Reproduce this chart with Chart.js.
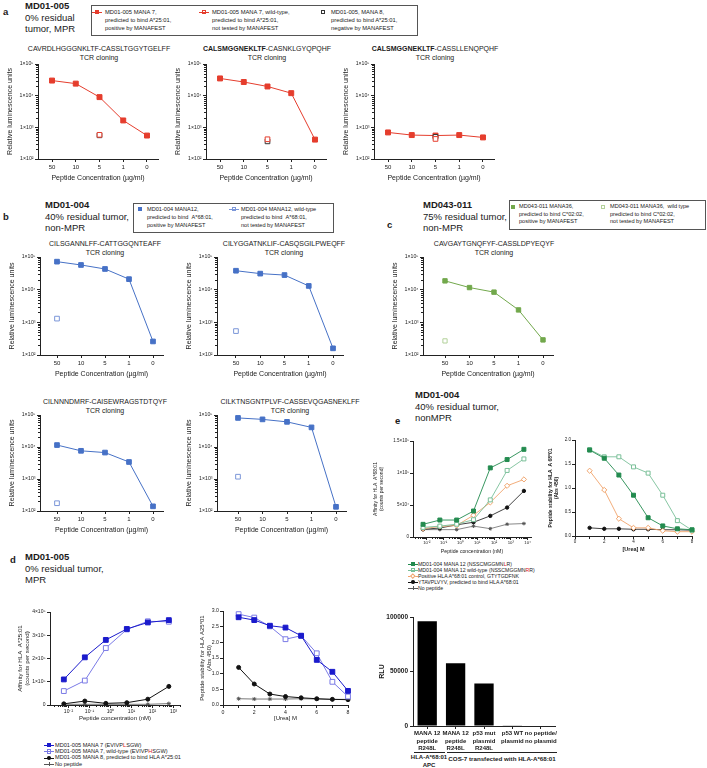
<!DOCTYPE html>
<html><head><meta charset="utf-8">
<script src="https://cdn.jsdelivr.net/npm/chart.js@4.4.1/dist/chart.umd.min.js"></script>
<style>
html,body{margin:0;padding:0;background:#fff}
body{width:707px;height:768px;position:relative;overflow:hidden;font-family:'Liberation Sans',Arial,sans-serif;color:#1a1a1a}
canvas{position:absolute}
.tx{position:absolute;white-space:nowrap}
.hd{position:absolute;white-space:nowrap;font-size:9.5px;line-height:11.5px}
.pl{position:absolute;font-size:9.5px;font-weight:bold;line-height:12px}
.lg{position:absolute;border:1px solid #555;background:#fff;box-sizing:border-box}
.li{position:absolute;white-space:nowrap;font-size:5.8px;line-height:8px}
.ti{position:absolute;white-space:nowrap;font-size:7px;line-height:8.5px;text-align:center;transform:translateX(-50%)}
.r{color:#e0201a}
.mk{position:absolute;box-sizing:border-box}
</style></head><body>

<!-- panel a header -->
<div class="pl" style="left:3px;top:6px">a</div>
<div class="hd" style="left:25px;top:0px"><b>MD01-005</b><br>0% residual<br>tumor, MPR</div>
<div class="lg" style="left:91px;top:5px;width:327px;height:31px"></div>
<div class="li" style="left:105px;top:8px">MD01-005 MANA 7,<br>predicted to bind A*25:01,<br>positive by MANAFEST</div>
<div class="li" style="left:212px;top:8px">MD01-005 MANA 7, wild-type,<br>predicted to bind A*25:01,<br>not tested by MANAFEST</div>
<div class="li" style="left:331px;top:8px">MD01-005, MANA 8,<br>predicted to bind A*25:01,<br>negative by MANAFEST</div>

<div class="ti" style="left:99px;top:45px">CAVRDLHGGGNKLTF-CASSLTGGYTGELFF<br>TCR cloning</div>
<div class="ti" style="left:267px;top:45px"><b>CALSMGGNEKLTF</b>-CASNKLGYQPQHF<br>TCR cloning</div>
<div class="ti" style="left:435px;top:45px"><b>CALSMGGNEKLTF</b>-CASSLLENQPQHF<br>TCR cloning</div>

<!-- panel b header -->
<div class="pl" style="left:3px;top:211px">b</div>
<div class="hd" style="left:45px;top:199px"><b>MD01-004</b><br>40% residual tumor,<br>non-MPR</div>
<div class="lg" style="left:133px;top:203px;width:201px;height:30px"></div>
<div class="li" style="left:147px;top:205px;font-size:5.6px">MD01-004 MANA12,<br>predicted to bind &nbsp;A*68:01,<br>positive by MANAFEST</div>
<div class="li" style="left:241px;top:205px;font-size:5.6px">MD01-004 MANA12, wild-type<br>predicted to bind &nbsp;A*68:01,<br>not tested by MANAFEST</div>

<div class="ti" style="left:105px;top:240px">CILSGANNLFF-CATTGGQNTEAFF<br>TCR cloning</div>
<div class="ti" style="left:284px;top:240px">CILYGGATNKLIF-CASQSGILPWEQFF<br>TCR cloning</div>
<div class="ti" style="left:105px;top:398px">CILNNNDMRF-CAISEWRAGSTDTQYF<br>TCR cloning</div>
<div class="ti" style="left:290px;top:398px">CILKTNSGNTPLVF-CASSEVQGASNEKLFF<br>TCR cloning</div>

<!-- panel c header -->
<div class="pl" style="left:387px;top:219px">c</div>
<div class="hd" style="left:423px;top:199px"><b>MD043-011</b><br>75% residual tumor,<br>non-MPR</div>
<div class="lg" style="left:509px;top:200px;width:197px;height:30px"></div>
<div class="li" style="left:519px;top:203px;font-size:5.6px;line-height:7.5px">MD043-011 MANA36,<br>predicted to bind C*02:02,<br>positive by MANAFEST</div>
<div class="li" style="left:610px;top:203px;font-size:5.6px;line-height:7.5px">MD043-011 MANA36, &nbsp;wild type<br>predicted to bind C*02:02,<br>not tested by MANAFEST</div>
<div class="ti" style="left:494px;top:240px">CAVGAYTGNQFYF-CASSLDPYEQYF<br>TCR cloning</div>

<!-- panel e header -->
<div class="pl" style="left:395px;top:415px">e</div>
<div class="hd" style="left:415px;top:389px"><b>MD01-004</b><br>40% residual tumor,<br>nonMPR</div>
<div class="li" style="left:418px;top:561px;font-size:5.2px;line-height:6px">MD01-004 MANA 12 (NSSCMGGMN<span class="r">L</span>R)<br>MD01-004 MANA 12 wild-type (NSSCMGGMN<span class="r">R</span>R)<br>Positive HLA A*68:01 control, GTYTGDFNK<br>YTAVPLVYV, predicted to bind HLA A*68:01<br>No peptide</div>

<!-- panel d header -->
<div class="pl" style="left:10px;top:554px">d</div>
<div class="hd" style="left:25px;top:551px"><b>MD01-005</b><br>0% residual tumor,<br>MPR</div>
<div class="li" style="left:55px;top:741.5px;font-size:5.6px;line-height:6.4px">MD01-005 MANA 7 (EVIVP<span class="r">L</span>SGW)<br>MD01-005 MANA 7, wild-type (EVIVP<span class="r">H</span>SGW)<br>MD01-005 MANA 8, predicted to bind HLA A*25:01<br>No peptide</div>

<!-- bar chart group labels -->
<div class="mk" style="left:414px;top:752px;width:31px;height:0;border-top:1px solid #222"></div>
<div class="mk" style="left:447px;top:752px;width:110px;height:0;border-top:1px solid #222"></div>
<div class="tx" style="left:429px;top:754px;transform:translateX(-50%);font-size:6px;line-height:7.5px;font-weight:bold;text-align:center">HLA-A*68:01<br>APC</div>
<div class="tx" style="left:502px;top:755px;transform:translateX(-50%);font-size:6.2px;line-height:7.5px;font-weight:bold">COS-7 transfected with HLA-A*68:01</div>

<script>
// ---------------- DATA ----------------
const concLabels = ['50', '10', '5', '1', '0'];

// panel a (MD01-005), relative luminescence units
const a1Mana7   = [30000, 24000, 9000, 1650, 550];
const a1Mana7WT = [null, null, 580, null, null];
const a1Mana8   = [null, null, 560, null, null];
const a2Mana7   = [35000, 27000, 19500, 12000, 410];
const a2Mana7WT = [null, null, 420, null, null];
const a2Mana8   = [null, null, 360, null, null];
const a3Mana7   = [690, 570, 550, 570, 480];
const a3Mana7WT = [null, null, 430, null, null];
const a3Mana8   = [null, null, 500, null, null];

// panel b (MD01-004)
const b1Mana12   = [72000, 57000, 43000, 21000, 260];
const b1Mana12WT = [1300, null, null, null, null];
const b2Mana12   = [38000, 31000, 28000, 13000, 160];
const b2Mana12WT = [540, null, null, null, null];
const b3Mana12   = [11500, 7600, 6700, 3400, 140];
const b3Mana12WT = [175, null, null, null, null];
const b4Mana12   = [81000, 73000, 61000, 41000, 135];
const b4Mana12WT = [1180, null, null, null, null];

// panel c (MD043-011)
const cMana36   = [18600, 11600, 8400, 2400, 290];
const cMana36WT = [270, null, null, null, null];

// panel d (MD01-005) affinity, counts per second
const dConc        = [0.006, 0.06, 0.6, 6, 60, 600];
const dAffMana7    = [110000, 205000, 280000, 327000, 355000, 365000];
const dAffMana7WT  = [60000, 105000, 245000, 325000, 360000, 358000];
const dAffMana8    = [5000, 17000, 7000, 10000, 25000, 80000];
const dAffNoPep    = [3000, 3000, 3000, 3000, 3000, 6000];
// panel d stability (Abs 450)
const urea         = [1, 2, 3, 4, 5, 6, 7, 8];
const dStabMana7   = [2.8, 2.71, 2.53, 2.47, 2.21, 1.44, 1.06, 0.45];
const dStabMana7WT = [2.9, 2.79, 2.51, 2.1, 2.21, 1.65, 0.74, 0.27];
const dStabMana8   = [1.2, 0.67, 0.35, 0.27, 0.23, 0.2, 0.18, 0.17];
const dStabNoPep   = [0.2, 0.19, 0.19, 0.19, 0.2, 0.19, 0.18, 0.18];

// panel e (MD01-004) affinity
const eConc         = [0.006, 0.06, 0.6, 6, 60, 600, 6000];
const eAffMana12    = [19800, 26500, 26500, 40600, 108000, 121000, 137000];
const eAffMana12WT  = [15000, 17000, 20000, 27000, 58000, 104000, 122000];
const eAffPosCtrl   = [13000, 16500, 18000, 34000, 54000, 80000, 90000];
const eAffYTAV      = [12000, 14000, 19000, 23000, 33000, 46000, 72000];
const eAffNoPep     = [11500, 11500, 11500, 17000, 13000, 20000, 21000];
// panel e stability
const eStabMana12   = [1.79, 1.62, 1.27, 0.85, 0.38, 0.21, 0.15, 0.13];
const eStabMana12WT = [1.8, 1.65, 1.65, 1.44, 1.31, 0.85, 0.32, 0.12];
const eStabPosCtrl  = [1.36, 0.96, 0.36, 0.17, 0.17, 0.11, 0.09, 0.09];
const eStabYTAV     = [0.17, 0.15, 0.15, 0.14, 0.14, 0.13, 0.13, 0.12];

// bar chart
const barLabels = [['MANA 12', 'peptide', 'R248L'], ['MANA 12', 'peptide', 'R248L'], ['p53 mut', 'plasmid', 'R248L'], ['p53 WT', 'plasmid'], ['no peptide/', 'no plasmid']];
const barRLU = [96000, 57500, 39000, 600, 0];

// ---------------- STYLE ----------------
const RED = '#e53d2d', BLUE = '#4671c6', BLUE_O = '#7b96d8', GREEN = '#72a84c', GREEN_O = '#b3d19a';
const DBLUE = '#1b1bcc', DBLUE_O = '#7a7ae6', EGREEN = '#238b4f', EGREEN_O = '#79bf98', ORANGE = '#f0a46c', GREY = '#555', BLK = '#111';

Chart.defaults.font.family = "'Liberation Sans', Arial, sans-serif";
Chart.defaults.color = '#1a1a1a';
Chart.defaults.animation = false;

const minorTicks = {
  id: 'minorTicks',
  afterDraw(chart) {
    const ctx = chart.ctx;
    ctx.save(); ctx.strokeStyle = '#222'; ctx.lineWidth = 1;
    ['x', 'y'].forEach(id => {
      const s = chart.scales[id];
      if (!s || s.type !== 'logarithmic' || !s.options.minorTicks) return;
      const lo = Math.floor(Math.log10(s.min)), hi = Math.ceil(Math.log10(s.max));
      for (let d = lo; d <= hi; d++) for (let k = 2; k <= 9; k++) {
        const v = k * Math.pow(10, d);
        if (v < s.min || v > s.max) continue;
        const p = Math.round(s.getPixelForValue(v)) + 0.5;
        ctx.beginPath();
        if (id === 'y') { ctx.moveTo(s.right, p); ctx.lineTo(s.right - 2, p); }
        else { ctx.moveTo(p, s.top); ctx.lineTo(p, s.top + 2); }
        ctx.stroke();
      }
    });
    ctx.restore();
  }
};
Chart.register(minorTicks);

function mkCanvas(p) {
  const c = document.createElement('canvas');
  const x = p.L - p.yw, y = p.T - p.pt;
  const w = Math.round(p.yw + (p.R - p.L) + p.pr), h = Math.round(p.pt + (p.B - p.T) + p.xh);
  c.width = w; c.height = h;
  c.style.left = x + 'px'; c.style.top = y + 'px';
  c.style.width = w + 'px'; c.style.height = h + 'px';
  document.body.appendChild(c);
  return c;
}
function axisCommon() {
  return {
    border: { display: true, color: '#222', width: 1 },
    grid: { display: true, drawOnChartArea: false, drawTicks: true, tickLength: 3, tickColor: '#222' }
  };
}
function makeChart(p) {
  const c = mkCanvas(p);
  return new Chart(c, {
    type: p.type || 'line',
    data: { labels: p.labels, datasets: p.datasets },
    options: {
      responsive: false, maintainAspectRatio: false, animation: false,
      layout: { padding: { top: p.pt, right: p.pr, left: 0, bottom: 0 } },
      plugins: { legend: { display: false }, tooltip: { enabled: false }, title: { display: false } },
      scales: {
        x: Object.assign(axisCommon(), p.x, { afterFit: s => { s.height = p.xh; } }),
        y: Object.assign(axisCommon(), p.y, { afterFit: s => { s.width = p.yw; } })
      }
    }
  });
}
function pts(xs, ys) { const o = []; ys.forEach((v, i) => { if (v != null) o.push({ x: xs[i], y: v }); }); return o; }
function ser(data, color, o) {
  return Object.assign({
    data, borderColor: color, backgroundColor: color, borderWidth: 1,
    pointStyle: 'rect', pointRadius: 3.5, pointBackgroundColor: color, pointBorderColor: color, pointBorderWidth: 1,
    showLine: true, tension: 0, clip: false
  }, o || {});
}
const openPt = (c, style, r) => ({ showLine: false, pointStyle: style || 'rect', pointBackgroundColor: '#fff', pointBorderColor: c, pointRadius: r || 3.3 });

// ---------------- TCR charts ----------------
const logLbl = { 100: '1×10²', 1000: '1×10³', 10000: '1×10⁴', 100000: '1×10⁵' };
const idx = concLabels.map((_, i) => i);
function tcr(axisX, first, step, endGap, T, B, datasets) {
  const yw = 34, xh = 25, pt = 5, pr = 6;
  const L = axisX, R = first + 4 * step + endGap;
  makeChart({ L, T, R, B, yw, xh, pt, pr, datasets,
    x: { type: 'linear', min: -(first - L) / step, max: (R - first) / step,
      afterBuildTicks: s => { s.ticks = idx.map(i => ({ value: i })); },
      ticks: { autoSkip: false, maxRotation: 0, font: { size: 6 }, padding: 1.5, callback: v => concLabels[v] },
      title: { display: true, text: 'Peptide Concentration (µg/ml)', font: { size: 7 }, padding: { top: 0, bottom: xh - 19 - 4.2 } } },
    y: { type: 'logarithmic', min: 100, max: 100000, minorTicks: true,
      afterBuildTicks: s => { s.ticks = [100, 1000, 10000, 100000].map(v => ({ value: v })); },
      ticks: { autoSkip: false, font: { size: 5.2 }, padding: 1.5, callback: v => logLbl[v] },
      title: { display: true, text: 'Relative luminescence units', font: { size: 7 }, padding: { top: yw - 28 - 4.2, bottom: 0 } } }
  });
}
// row a
const aStep = 23.7;
tcr(38, 52, aStep, 11, 64, 159, [ser(pts(idx, a1Mana7WT), RED, openPt(RED)), ser(pts(idx, a1Mana8), BLK, openPt('#333')), ser(pts(idx, a1Mana7), RED)]);
tcr(206, 220, aStep, 11, 64, 159, [ser(pts(idx, a2Mana7WT), RED, openPt(RED)), ser(pts(idx, a2Mana8), BLK, openPt('#333')), ser(pts(idx, a2Mana7), RED)]);
tcr(374, 388, aStep, 11, 64, 159, [ser(pts(idx, a3Mana7WT), RED, openPt(RED)), ser(pts(idx, a3Mana8), BLK, openPt('#333')), ser(pts(idx, a3Mana7), RED)]);
// row b top + c
tcr(40, 57, 24, 10, 257, 355, [ser(pts(idx, b1Mana12), BLUE, { pointRadius: 3.3 }), ser(pts(idx, b1Mana12WT), BLUE_O, openPt(BLUE_O))]);
tcr(217, 236, 24.3, 10, 257, 355, [ser(pts(idx, b2Mana12), BLUE, { pointRadius: 3.3 }), ser(pts(idx, b2Mana12WT), BLUE_O, openPt(BLUE_O))]);
tcr(423, 445, 24.5, 10, 257, 355, [ser(pts(idx, cMana36), GREEN, { pointRadius: 3.1 }), ser(pts(idx, cMana36WT), GREEN_O, openPt(GREEN_O, 'rect', 3))]);
// row b bottom
tcr(40, 57, 24, 10, 415, 511, [ser(pts(idx, b3Mana12), BLUE, { pointRadius: 3.3 }), ser(pts(idx, b3Mana12WT), BLUE_O, openPt(BLUE_O))]);
tcr(217, 238, 24.5, 10, 415, 511, [ser(pts(idx, b4Mana12), BLUE, { pointRadius: 3.3 }), ser(pts(idx, b4Mana12WT), BLUE_O, openPt(BLUE_O))]);

// ---------------- panel d ----------------
const supL = { '-2': '10⁻²', '-1': '10⁻¹', '0': '10⁰', '1': '10¹', '2': '10²', '3': '10³', '4': '10⁴' };
const decTicks = (a, b) => { const t = []; for (let d = a; d <= b; d++) t.push({ value: Math.pow(10, d) }); return t; };
(function () {
  const yw = 34, xh = 17, pt = 5, pr = 6, L = 50, R = 180, T = 612, B = 705;
  makeChart({ L, T, R, B, yw, xh, pt, pr,
    datasets: [
      ser(pts(dConc, dAffMana7), DBLUE, { pointRadius: 3.4 }),
      ser(pts(dConc, dAffMana7WT), DBLUE_O, { pointBackgroundColor: '#fff', pointRadius: 3.4 }),
      ser(pts(dConc, dAffMana8), BLK, { pointStyle: 'circle', pointRadius: 2 }),
      ser(pts(dConc, dAffNoPep), GREY, { pointStyle: 'star', pointRadius: 2, borderWidth: 0.8 })
    ],
    x: { type: 'logarithmic', min: Math.pow(10, -2.88), max: Math.pow(10, 3.31), minorTicks: true,
      afterBuildTicks: s => { s.ticks = decTicks(-2, 3); },
      ticks: { autoSkip: false, maxRotation: 0, font: { size: 5 }, padding: 1, callback: v => supL[Math.round(Math.log10(v))] },
      title: { display: true, text: 'Peptide concentration (nM)', font: { size: 6 }, padding: { top: 0, bottom: xh - 13 - 3.6 } } },
    y: { type: 'linear', min: 0, max: 400000,
      afterBuildTicks: s => { s.ticks = [0, 100000, 200000, 300000, 400000].map(v => ({ value: v })); },
      ticks: { font: { size: 5 }, padding: 1.5, callback: v => v === 0 ? '0' : (v / 100000) + '×10⁵' },
      title: { display: true, text: ['Affinity for HLA  A*25:01', '(counts per second)'], font: { size: 6.2 }, padding: { top: 0.6, bottom: 0 } } }
  });
})();
(function () {
  const yw = 24, xh = 17, pt = 5, pr = 6, L = 223, R = 348, T = 611, B = 705;
  makeChart({ L, T, R, B, yw, xh, pt, pr,
    datasets: [
      ser(pts(urea, dStabMana7), DBLUE, { pointRadius: 3.4 }),
      ser(pts(urea, dStabMana7WT), DBLUE_O, { pointBackgroundColor: '#fff', pointRadius: 3.4 }),
      ser(pts(urea, dStabMana8), BLK, { pointStyle: 'circle', pointRadius: 2 }),
      ser(pts(urea, dStabNoPep), GREY, { pointStyle: 'star', pointRadius: 2, borderWidth: 0.8 })
    ],
    x: { type: 'linear', min: 0, max: 8,
      afterBuildTicks: s => { s.ticks = [0, 1, 2, 3, 4, 5, 6, 7, 8].map(v => ({ value: v })); },
      ticks: { autoSkip: false, maxRotation: 0, font: { size: 5.2 }, padding: 1, callback: v => v % 2 === 0 ? String(v) : '' },
      title: { display: true, text: '[Urea] M', font: { size: 6 }, padding: { top: 0, bottom: xh - 13 - 3.6 } } },
    y: { type: 'linear', min: 0, max: 3,
      afterBuildTicks: s => { s.ticks = [0, 0.5, 1, 1.5, 2, 2.5, 3].map(v => ({ value: v })); },
      ticks: { font: { size: 5.2 }, padding: 1, callback: v => v.toFixed(1) },
      title: { display: true, text: ['Peptide stability for HLA A25*01', '(Abs 450)'], font: { size: 6 }, padding: { top: 0, bottom: 0 } } }
  });
})();

// ---------------- panel e ----------------
(function () {
  const yw = 40, xh = 18, pt = 5, pr = 6, L = 413, R = 531, T = 441, B = 537;
  makeChart({ L, T, R, B, yw, xh, pt, pr,
    datasets: [
      ser(pts(eConc, eAffMana12), EGREEN, { pointRadius: 2.8, borderWidth: 0.9 }),
      ser(pts(eConc, eAffMana12WT), EGREEN_O, { pointBackgroundColor: '#fff', pointRadius: 2.8, borderWidth: 0.9 }),
      ser(pts(eConc, eAffPosCtrl), ORANGE, { pointStyle: 'rectRot', pointBackgroundColor: '#fff', pointRadius: 2.6, borderWidth: 0.9 }),
      ser(pts(eConc, eAffYTAV), BLK, { pointStyle: 'circle', pointRadius: 1.7, borderWidth: 0.8 }),
      ser(pts(eConc, eAffNoPep), GREY, { pointStyle: 'star', pointRadius: 1.8, borderWidth: 0.7 })
    ],
    x: { type: 'logarithmic', min: Math.pow(10, -2.82), max: Math.pow(10, 4.2), minorTicks: true,
      afterBuildTicks: s => { s.ticks = decTicks(-2, 4); },
      ticks: { autoSkip: false, maxRotation: 0, font: { size: 4.3 }, padding: 0.5, callback: v => supL[Math.round(Math.log10(v))] },
      title: { display: true, text: 'Peptide concentration (nM)', font: { size: 5.2 }, padding: { top: 0, bottom: xh - 15 - 3.1 } } },
    y: { type: 'linear', min: 0, max: 150000,
      afterBuildTicks: s => { s.ticks = [0, 50000, 100000, 150000].map(v => ({ value: v })); },
      ticks: { font: { size: 4.5 }, padding: 1, callback: v => ({ 0: '0', 50000: '5×10⁴', 100000: '1×10⁵', 150000: '1.5×10⁵' })[v] },
      title: { display: true, text: ['Affinity for HLA  A*68:01', '(counts per second)'], font: { size: 5 }, padding: { top: 0, bottom: 0 } } }
  });
})();
(function () {
  const yw = 28, xh = 17, pt = 5, pr = 8, L = 575, R = 692, T = 440, B = 535.5;
  makeChart({ L, T, R, B, yw, xh, pt, pr,
    datasets: [
      ser(pts(urea, eStabMana12), EGREEN, { pointRadius: 2.8, borderWidth: 0.9 }),
      ser(pts(urea, eStabMana12WT), EGREEN_O, { pointBackgroundColor: '#fff', pointRadius: 2.8, borderWidth: 0.9 }),
      ser(pts(urea, eStabPosCtrl), ORANGE, { pointStyle: 'rectRot', pointBackgroundColor: '#fff', pointRadius: 2.6, borderWidth: 0.9 }),
      ser(pts(urea, eStabYTAV), BLK, { pointStyle: 'circle', pointRadius: 1.7, borderWidth: 0.8 })
    ],
    x: { type: 'linear', min: 0, max: 8,
      afterBuildTicks: s => { s.ticks = [0, 1, 2, 3, 4, 5, 6, 7, 8].map(v => ({ value: v })); },
      ticks: { autoSkip: false, maxRotation: 0, font: { size: 4.5 }, padding: 0.5, callback: v => v % 2 === 0 ? String(v) : '' },
      title: { display: true, text: '[Urea] M', font: { size: 5.5, weight: 'bold' }, padding: { top: 0, bottom: xh - 13.5 - 3.3 } } },
    y: { type: 'linear', min: 0, max: 2,
      afterBuildTicks: s => { s.ticks = [0, 0.5, 1, 1.5, 2].map(v => ({ value: v })); },
      ticks: { font: { size: 4.5 }, padding: 1, callback: v => v.toFixed(1) },
      title: { display: true, text: ['Peptide stability for HLA  A 68*01', '(Abs 450)'], font: { size: 5, weight: 'bold' }, padding: { top: 0.5, bottom: 0 } } }
  });
})();

// ---------------- bar chart ----------------
(function () {
  const yw = 37, xh = 28, pt = 6, pr = 6, L = 413, R = 555, T = 617, B = 725.5;
  makeChart({ L, T, R, B, yw, xh, pt, pr, type: 'bar', labels: barLabels,
    datasets: [{ data: barRLU, backgroundColor: '#000', borderColor: '#000', borderWidth: 0, barPercentage: 0.68, categoryPercentage: 1, minBarLength: 0 }],
    x: { type: 'category', offset: true,
      grid: { display: true, drawOnChartArea: false, drawTicks: true, tickLength: 3, tickColor: '#222', offset: false },
      ticks: { autoSkip: false, maxRotation: 0, font: { size: 6, weight: 'bold', lineHeight: 1.25 }, padding: 1 } },
    y: { type: 'linear', min: 0, max: 100000,
      afterBuildTicks: s => { s.ticks = [0, 50000, 100000].map(v => ({ value: v })); },
      ticks: { font: { size: 6.5, weight: 'bold' }, padding: 2, callback: v => String(v) },
      title: { display: true, text: 'RLU', font: { size: 7, weight: 'bold' }, padding: { top: 1.8, bottom: 0 } } }
  });
})();

// ---------------- legend markers (HTML) ----------------
function mk(cx, cy, kind, color, line) {
  const add = (st) => { const d = document.createElement('div'); d.className = 'mk'; d.setAttribute('style', st); document.body.appendChild(d); };
  if (line) add(`left:${cx - 5}px;top:${cy - 0.5}px;width:10px;height:1px;background:${color}`);
  const s = 4.4;
  if (kind === 'fsq') add(`left:${cx - s / 2}px;top:${cy - s / 2}px;width:${s}px;height:${s}px;background:${color}`);
  if (kind === 'osq') add(`left:${cx - s / 2}px;top:${cy - s / 2}px;width:${s}px;height:${s}px;border:1px solid ${color};background:${line ? 'transparent' : '#fff'}`);
  if (kind === 'dot') add(`left:${cx - 1.8}px;top:${cy - 1.8}px;width:3.6px;height:3.6px;border-radius:50%;background:${color}`);
  if (kind === 'dia') add(`left:${cx - 1.8}px;top:${cy - 1.8}px;width:3.6px;height:3.6px;border:1px solid ${color};background:#fff;transform:rotate(45deg)`);
  if (kind === 'star') { add(`left:${cx - 2}px;top:${cy - 0.4}px;width:4px;height:0.8px;background:${color}`); add(`left:${cx - 0.4}px;top:${cy - 2}px;width:0.8px;height:4px;background:${color}`); }
}
// panel a legend
mk(97, 12, 'fsq', RED, true); mk(204, 12, 'osq', RED, true); mk(323, 12, 'osq', '#333', false);
// panel b legend
mk(140, 209, 'fsq', BLUE, false); mk(234, 209, 'osq', BLUE_O, true);
// panel c legend
mk(513, 207, 'fsq', GREEN, false); mk(603, 207, 'osq', GREEN_O, false);
// panel e legend
mk(413, 564, 'fsq', EGREEN, true); mk(413, 570, 'osq', EGREEN_O, true); mk(413, 576, 'dia', ORANGE, true); mk(413, 582, 'dot', BLK, true); mk(413, 588, 'star', GREY, true);
// panel d legend
mk(49, 745, 'fsq', DBLUE, true); mk(49, 751.5, 'osq', DBLUE_O, true); mk(49, 758, 'dot', BLK, true); mk(49, 764, 'star', GREY, true);
</script>
</body></html>
